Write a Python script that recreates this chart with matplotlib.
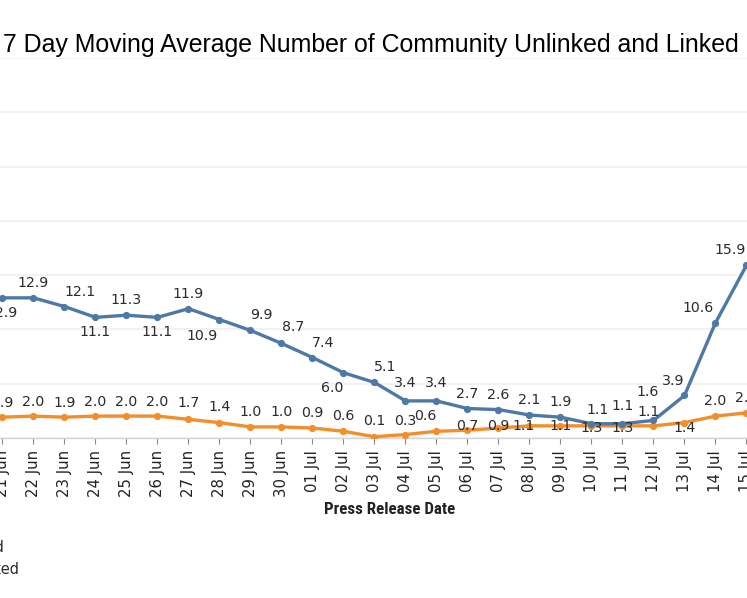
import matplotlib
matplotlib.use("Agg")
import matplotlib.pyplot as plt
from matplotlib import font_manager

# ---------------- data ----------------
dates = ["21 Jun", "22 Jun", "23 Jun", "24 Jun", "25 Jun", "26 Jun", "27 Jun",
         "28 Jun", "29 Jun", "30 Jun", "01 Jul", "02 Jul", "03 Jul", "04 Jul",
         "05 Jul", "06 Jul", "07 Jul", "08 Jul", "09 Jul", "10 Jul", "11 Jul",
         "12 Jul", "13 Jul", "14 Jul", "15 Jul"]
unlinked = [12.9, 12.9, 12.1, 11.1, 11.3, 11.1, 11.9, 10.9, 9.9, 8.7, 7.4, 6.0,
            5.1, 3.4, 3.4, 2.7, 2.6, 2.1, 1.9, 1.3, 1.3, 1.6, 3.9, 10.6, 15.9]
linked = [1.9, 2.0, 1.9, 2.0, 2.0, 2.0, 1.7, 1.4, 1.0, 1.0, 0.9, 0.6, 0.1, 0.3,
          0.6, 0.7, 0.9, 1.1, 1.1, 1.1, 1.1, 1.1, 1.4, 2.0, 2.3]
legend_labels = ["Linked", "Unlinked"]
title = "7 Day Moving Average Number of Community Unlinked and Linked"
xlabel = "Press Release Date"
y_ticks = [0, 5, 10, 15, 20, 25, 30, 35]

# label placement (pixel offsets of label centre from point; style only)
blue_dx = [0, 0, 16, 0, 0, 0, 0, -17, 11, 12, 11, -11, 11, 0, 0, 0, 0, 0, 0,
           0, 0, -6, -11, -17, -16]
blue_dy = [-15, 15, 15, -15, 15, -15, 15, -16, 15, 16, 15, -15, 15, 18, 18,
           15, 15, 15, 15, -4, -4, 28, 14, 15, 15]
orange_dx = [0, 0, 0, 0, 0, 0, 0, 0, 0, 0, 0, 0, 0, 0, -11, 0, 0, -6, 0, 6,
             0, -5, 0, 0, 0]
orange_dy = [14, 14, 14, 14, 14, 14, 16, 16, 15, 15, 15, 15, 16, 14, 15, 4, 2,
             0, 0, 16, 20, 14, -5, 15, 15]

BLUE = "#4e79a7"
ORANGE = "#f28e2b"
TXT = "#2b2b2b"

W, H = 747, 598
fig = plt.figure(figsize=(W / 100, H / 100), dpi=100)

avail = {f.name for f in font_manager.fontManager.ttflist}
def pick(*names):
    for n in names:
        if n in avail:
            return n
    return "DejaVu Sans"

cond_bold = pick("Liberation Sans Narrow", "Roboto Condensed", "Roboto", "Lato")
arial = pick("Liberation Sans", "Arial", "DejaVu Sans")

# axes geometry (pixels): index 0 at x=2.5, spacing 31 px; y=0 at 437.8 px, 10.85 px/unit
x0_px, dx_px = 2.5, 31.0
y0_px, py = 437.8, 10.85
ymax = 35
ax_bottom = (H - y0_px) / H
ax_height = ymax * py / H
ax = fig.add_axes([0, ax_bottom, 1, ax_height])
xs = list(range(len(dates)))
ax.set_xlim(-x0_px / dx_px, (W - x0_px) / dx_px)
ax.set_ylim(0, ymax)

for s in ["top", "right", "left"]:
    ax.spines[s].set_visible(False)
ax.spines["bottom"].set_color("#d4d4d4")
ax.spines["bottom"].set_linewidth(1.0)
ax.set_yticks(y_ticks)
ax.tick_params(axis="y", left=False, labelleft=False)
ax.yaxis.grid(True, color="#efefef", linewidth=1.1)
ax.set_axisbelow(True)

ax.set_xticks(xs)
ax.set_xticklabels(dates, rotation=90, fontsize=10.7, color="#222222",
                   family="DejaVu Sans")
ax.tick_params(axis="x", length=4, width=0.8, color="#888888", pad=5)

ax.plot(xs, linked, color=ORANGE, lw=2.4, marker="o", ms=4.2,
        solid_capstyle="round", zorder=3)
ax.plot(xs, unlinked, color=BLUE, lw=2.4, marker="o", ms=4.2,
        solid_capstyle="round", zorder=4)

for i, v in enumerate(linked):
    ax.annotate(f"{v:.1f}", (xs[i], v), xytext=(orange_dx[i], orange_dy[i]),
                textcoords="offset pixels", ha="center", va="center",
                fontsize=10.2, color=TXT, zorder=6, annotation_clip=False)
for i, v in enumerate(unlinked):
    ax.annotate(f"{v:.1f}", (xs[i], v), xytext=(blue_dx[i], blue_dy[i]),
                textcoords="offset pixels", ha="center", va="center",
                fontsize=10.2, color=TXT, zorder=6, annotation_clip=False)

# title (cropped at left in reference)
fig.text(3 / W, 1 - 52 / H, title, ha="left", va="baseline",
         fontsize=17.9, family=arial, color="black")

# x-axis title
fig.text(390 / W, 1 - 509.5 / H, xlabel, ha="center", va="center",
         fontsize=12.2, fontweight="bold", family=cond_bold, color="#222222")

# legend fragments (cropped at left)
fig.text(4 / W, 1 - 548 / H, legend_labels[0], ha="right", va="center",
         fontsize=10.5, color=TXT)
fig.text(20 / W, 1 - 570 / H, legend_labels[1], ha="right", va="center",
         fontsize=10.5, color=TXT)

fig.savefig("out.png", dpi=100, facecolor="white")
